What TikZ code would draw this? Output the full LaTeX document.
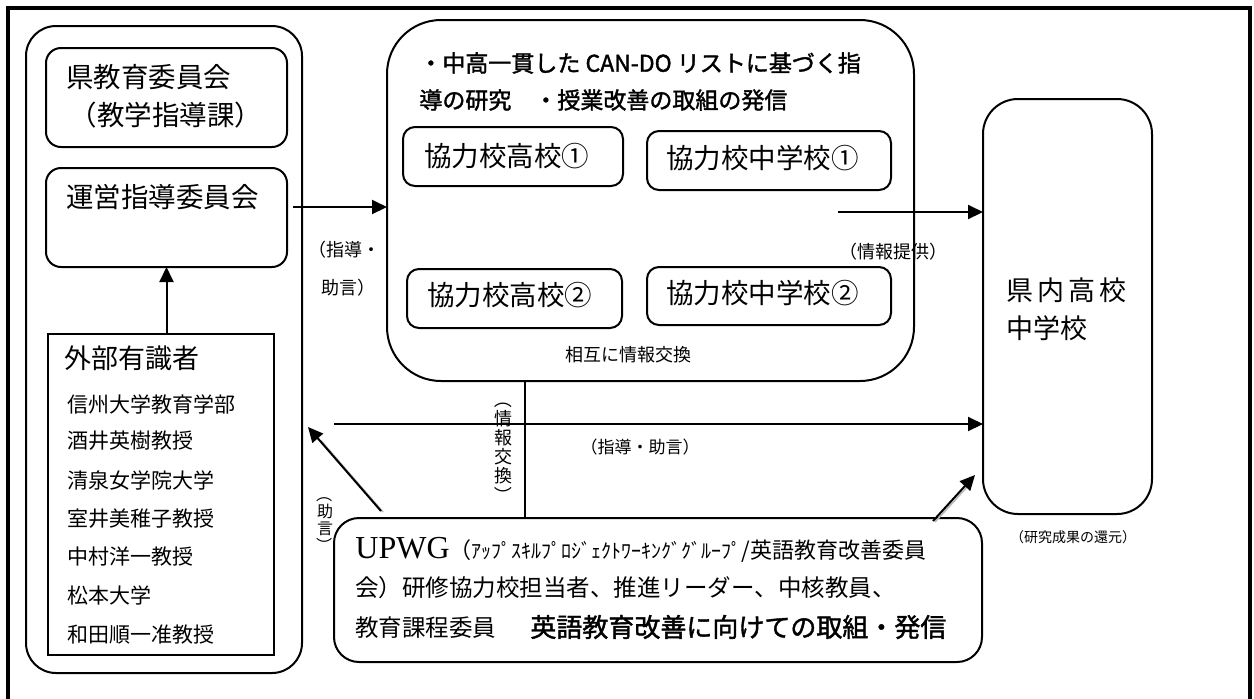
\documentclass[tikz,border=0pt]{standalone}
\usepackage{fontspec}
\setmainfont{Liberation Serif}
\newfontfamily\jpfont[BoldFont={Noto Sans CJK JP}, BoldFeatures={FakeBold=1.6}]{Noto Sans CJK JP}
\usepackage{tikz}
\usetikzlibrary{arrows.meta, calc}

\newcommand{\fsz}[1]{\fontsize{#1pt}{#1pt}\selectfont}
\newcommand{\vparen}[1]{\rotatebox[origin=c]{-90}{#1}}

\begin{document}
\begin{tikzpicture}[x=0.5pt, y=-0.5pt, font=\jpfont,
    rbox/.style={draw, line width=1pt, rounded corners=#1, inner sep=0pt, outer sep=0pt},
    sbox/.style={draw, line width=0.8pt, inner sep=0pt, outer sep=0pt},
    txt/.style={inner sep=0pt, anchor=west},
    ctxt/.style={inner sep=0pt},
    vtxt/.style={inner sep=0pt, align=center},
    arr/.style={line width=1pt, -{Triangle[length=7.5pt, width=7pt]}},
    shade/.style={line width=0.8pt, gray!55}]

    \useasboundingbox (0,0) rectangle (1254,698);

    % Outer frame (open at the bottom)
    \draw[line width=2pt] (8,720) -- (8,8) -- (1250,8) -- (1250,720);

    % Left group
    \node[rbox=15pt, minimum width=138pt, minimum height=323.5pt] (leftgrp) at (164,349.5) {};
    \node[rbox=7.5pt, minimum width=120.5pt, minimum height=49.5pt] (kyoiku) at (166.5,97.5) {};
    \node[txt, font=\jpfont\fsz{13.75}] (kyoiku1) at (66,77) {県教育委員会};
    \node[ctxt, font=\jpfont\fsz{13.75}] (kyoiku2) at (166,115) {（教学指導課）};

    \node[rbox=7.5pt, minimum width=120.5pt, minimum height=49.5pt] (unei) at (166.5,217.5) {};
    \node[txt, font=\jpfont\fsz{13.75}] (uneitxt) at (66,197) {運営指導委員会};

    \node[sbox, minimum width=113pt, minimum height=160.5pt] (gaibu) at (161,494.5) {};
    \node[txt, font=\jpfont\fsz{13.5}] (gaibutxt) at (64,358) {外部有識者};
    \node[txt, font=\jpfont\fsz{10.5}] (mem1) at (67,404) {信州大学教育学部};
    \node[txt, font=\jpfont\fsz{10.5}] (mem2) at (67,441) {酒井英樹教授};
    \node[txt, font=\jpfont\fsz{10.5}] (mem3) at (67,481) {清泉女学院大学};
    \node[txt, font=\jpfont\fsz{10.5}] (mem4) at (67,519) {室井美稚子教授};
    \node[txt, font=\jpfont\fsz{10.5}] (mem5) at (67,557) {中村洋一教授};
    \node[txt, font=\jpfont\fsz{10.5}] (mem6) at (67,595) {松本大学};
    \node[txt, font=\jpfont\fsz{10.5}] (mem7) at (67,635) {和田順一准教授};

    % Research group in the middle
    \node[rbox=27pt, minimum width=263.5pt, minimum height=180.5pt] (kenkyu) at (650.5,200.5) {};
    \node[txt, font=\jpfont\bfseries\fsz{11.5}] (aim1) at (419,63) {・中高一貫した CAN-DO リストに基づく指};
    \node[txt, font=\jpfont\bfseries\fsz{11.5}] (aim2) at (419,100) {導の研究　・授業改善の取組の発信};

    \node[rbox=6pt, minimum width=110pt, minimum height=29.5pt] (kou1) at (513,156.5) {};
    \node[txt, font=\jpfont\fsz{13.75}] (kou1txt) at (424,156) {協力校高校①};
    \node[rbox=6pt, minimum width=122pt, minimum height=29.5pt] (chu1) at (769,160.5) {};
    \node[txt, font=\jpfont\fsz{13.75}] (chu1txt) at (666,158) {協力校中学校①};
    \node[rbox=6pt, minimum width=107.5pt, minimum height=29.5pt] (kou2) at (514.5,298.5) {};
    \node[txt, font=\jpfont\fsz{13.75}] (kou2txt) at (427,295) {協力校高校②};
    \node[rbox=6pt, minimum width=122pt, minimum height=29pt] (chu2) at (769,296) {};
    \node[txt, font=\jpfont\fsz{13.75}] (chu2txt) at (666,293) {協力校中学校②};
    \node[ctxt, font=\jpfont\fsz{9}] (sogo) at (628,355) {相互に情報交換};

    % Schools in the prefecture
    \node[rbox=17.5pt, minimum width=84.5pt, minimum height=207.5pt] (kennai) at (1067.5,306.5) {};
    \node[txt, font=\jpfont\fsz{13.5}] (kennai1) at (1006,290) {県\kern2pt 内\kern2pt 高\kern2pt 校};
    \node[txt, font=\jpfont\fsz{13.5}] (kennai2) at (1006,328) {中学校};
    \node[ctxt, font=\jpfont\fsz{7}] (kangen) at (1073,537) {（研究成果の還元）};

    % UPWG
    \node[rbox=12.5pt, minimum width=324pt, minimum height=72pt] (upwg) at (658,590) {};
    \node[txt, font=\jpfont\fsz{11}] (upwg1) at (355,550)
        {{\rmfamily\fsz{16}UPWG}（{\fsz{10}ｱｯﾌﾟｽｷﾙﾌﾟﾛｼﾞｪｸﾄﾜｰｷﾝｸﾞｸﾞﾙｰﾌﾟ}/英語教育改善委員};
    \node[txt, font=\jpfont\fsz{11.75}] (upwg2) at (355,588) {会）研修協力校担当者、推進リーダー、中核教員、};
    \node[txt, font=\jpfont\fsz{11.75}] (upwg3) at (355,627)
        {教育課程委員\hspace{17pt}{\bfseries\fsz{13}英語教育改善に向けての取組・発信}};

    % Arrows
    \draw[arr] (unei.south |- gaibu.north) -- (unei.south);
    \coordinate (uneiout) at (293,207);
    \draw[arr] (uneiout) -- (uneiout -| kenkyu.west);
    \node[txt, font=\jpfont\fsz{9}] (shido1) at (308,250) {（指導・};
    \node[txt, font=\jpfont\fsz{9}] (shido2) at (321,288) {助言）};

    \coordinate (teikyo) at (838,212);
    \draw[arr] (teikyo) -- (teikyo -| kennai.west);
    \node[ctxt, font=\jpfont\fsz{9}] (teikyotxt) at (893,252) {（情報提供）};

    \coordinate (jogen) at (334,424);
    \draw[arr] (jogen) -- (jogen -| kennai.west);
    \node[ctxt, font=\jpfont\fsz{8.5}] (jogentxt) at (640,447) {（指導・助言）};

    % Information exchange line
    \coordinate (xchg) at (525,0);
    \draw[line width=1pt] (xchg |- kenkyu.south) -- (xchg |- upwg.north);
    \node[vtxt, font=\jpfont\fontsize{9pt}{9.6pt}\selectfont] (xchgtxt) at (503,447)
        {\vparen{（}\\情\\報\\交\\換\\\vparen{）}};

    % Shaded arrows from UPWG
    \coordinate (ltail) at (381,511);
    \coordinate (ltip) at (308,427);
    \draw[shade] ($(ltail)+(2,1)$) -- ($(ltip)!0.15!(ltail)+(2,1)$);
    \draw[arr] (ltail) -- (ltip);
    \node[vtxt, font=\jpfont\fontsize{8pt}{8.4pt}\selectfont] (advtxt) at (325,520)
        {\vparen{（}\\助\\言\\\vparen{）}};

    \coordinate (rtail) at (933,521);
    \coordinate (rtip) at (975,475);
    \draw[shade] ($(rtail)+(2,1)$) -- ($(rtip)!0.15!(rtail)+(2,1)$);
    \draw[arr] (rtail) -- (rtip);

\end{tikzpicture}
\end{document}
